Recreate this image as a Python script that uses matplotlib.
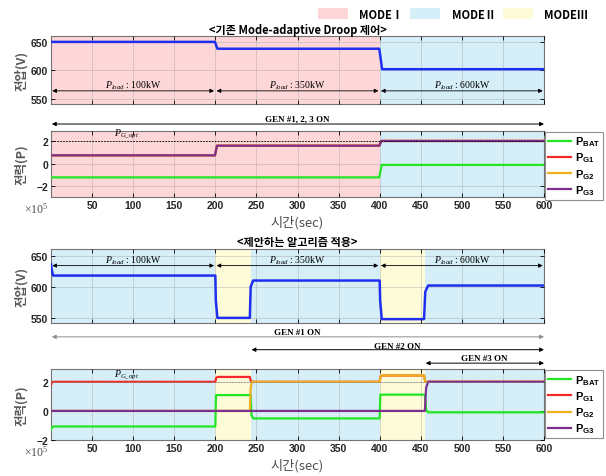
import matplotlib.pyplot as plt
from matplotlib.patches import Patch
from matplotlib.lines import Line2D

plt.rcParams['font.family'] = ['Noto Sans CJK KR', 'DejaVu Sans']
plt.rcParams['mathtext.fontset'] = 'custom'
plt.rcParams['mathtext.rm'] = 'Liberation Serif'
plt.rcParams['mathtext.it'] = 'Liberation Serif:italic'
plt.rcParams['mathtext.bf'] = 'Liberation Sans:bold'

# -----------------------------
# colours
# -----------------------------
mode_colors = {'I': '#FDD6D8', 'II': '#D5EEF8', 'III': '#FEFBD8'}
mode_names = ['MODEⅠ', 'MODEⅡ', 'MODEⅢ']
c_v = '#1F2FF0'
c_bat = '#22E622'
c_g1 = '#F42A2A'
c_g2 = '#EDB120'
c_g3 = '#7E2F8E'

# -----------------------------
# common
# -----------------------------
load_edges = [0, 200, 400, 600]
load_kw = [100, 350, 600]

# -----------------------------
# <기존 Mode-adaptive Droop 제어>
# -----------------------------
mode_edges_a = [0, 400, 600]
mode_ids_a = ['I', 'II']

t_va = [0, 199.5, 202.5, 399.5, 403, 600]
v_a = [650, 650, 638, 638, 602, 602]

t_pga = [0, 199.5, 202, 399.5, 402, 600]
pg_a = [0.75, 0.75, 1.6, 1.6, 2.02, 2.02]

t_bata = [0, 399.5, 402.5, 600]
bat_a = [-1.2, -1.2, -0.1, -0.1]

# -----------------------------
# <제안하는 알고리즘 적용>
# -----------------------------
mode_edges_b = [0, 200, 243, 400, 455, 600]
mode_ids_b = ['II', 'III', 'II', 'III', 'II']

t_vb = [0, 0.8, 2.5, 200, 200.6, 202.5, 242, 243, 246, 400, 400.6, 402.5, 454, 455.5, 459, 600]
v_b = [636, 628, 618, 618, 578, 550, 550, 600, 610, 610, 578, 548, 548, 592, 602, 602]

t_g1b = [0, 1, 2.5, 200, 201, 203, 242, 243.5, 400, 401, 403, 454, 455.5, 600]
g1_b = [1.8, 1.98, 2.02, 2.02, 2.3, 2.36, 2.36, 2.02, 2.02, 2.4, 2.46, 2.46, 2.02, 2.02]

t_g2b = [0, 242, 243, 244.5, 400, 401, 403, 454, 455.5, 600]
g2_b = [0, 0, 1.6, 2.02, 2.02, 2.4, 2.46, 2.46, 2.02, 2.02]

t_g3b = [0, 455, 456.5, 459, 600]
g3_b = [0, 0, 1.6, 2.02, 2.02]

t_batb = [0, 1, 3, 200, 200.8, 243, 244, 246, 400, 400.8, 455, 456.5, 459, 600]
bat_b = [-1.3, -1.15, -1.08, -1.08, 1.1, 1.1, -0.3, -0.52, -0.52, 1.13, 1.13, 0.1, -0.1, -0.1]

gen_labels = ['GEN #1 ON', 'GEN #2 ON', 'GEN #3 ON']
gen_start = [0, 243, 455]

pg_opt = 2.0

# -----------------------------
# figure
# -----------------------------
fig = plt.figure(figsize=(6.06, 4.77), dpi=100)
L, W = 51 / 606, 493 / 606
ax1 = fig.add_axes([L, 0.780, W, 0.142])
ax2 = fig.add_axes([L, 0.585, W, 0.139])
ax3 = fig.add_axes([L, 0.321, W, 0.154])
ax4 = fig.add_axes([L, 0.076, W, 0.148])


def style(ax, edges, ids, ylim, yticks, xlabels):
    for a, b, m in zip(edges[:-1], edges[1:], ids):
        ax.axvspan(a, b, color=mode_colors[m], lw=0, zorder=0)
    ax.set_xlim(0, 600)
    ax.set_ylim(*ylim)
    ax.set_xticks(range(50, 601, 50))
    ax.set_yticks(yticks)
    ax.grid(True, color='0.6', lw=0.5, alpha=0.5)
    ax.set_axisbelow(False)
    ax.tick_params(direction='in', top=True, right=True, length=3, width=0.6,
                   labelsize=7.5, labelcolor='0.15', pad=2)
    if not xlabels:
        ax.tick_params(labelbottom=False)
    for s in ax.spines.values():
        s.set_color('0.45')
        s.set_linewidth(0.8)
    for lbl in ax.get_xticklabels() + ax.get_yticklabels():
        lbl.set_fontfamily('Liberation Sans')
        lbl.set_fontweight('bold')


def load_arrows(ax, y, ytxt):
    for a, b, kw in zip(load_edges[:-1], load_edges[1:], load_kw):
        ax.annotate('', xy=(b - 1.5, y), xytext=(a + 1.5, y),
                    arrowprops=dict(arrowstyle='<|-|>', color='k', lw=0.6,
                                    mutation_scale=6, shrinkA=0, shrinkB=0))
        ax.text((a + b) / 2, ytxt, r'$\mathit{P}_{\mathit{load}}$ : ' + f'{kw}kW',
                ha='center', va='center', fontsize=7, family='Liberation Serif')


def gen_arrow(ax, a, y, color='k'):
    ax.annotate('', xy=(600, y), xytext=(a + 1, y), xycoords=('data', 'axes fraction'),
                arrowprops=dict(arrowstyle='<|-|>', color=color, lw=0.7,
                                mutation_scale=6, shrinkA=0, shrinkB=0),
                annotation_clip=False)


def gen_text(ax, a, y, label):
    ax.text((a + 600) / 2, y, label, transform=ax.get_xaxis_transform(),
            ha='center', va='center', fontsize=6.5, family='Liberation Serif',
            fontweight='bold', clip_on=False)


# ---- panel 1
style(ax1, mode_edges_a, mode_ids_a, (541, 660), [550, 600, 650], False)
ax1.plot(t_va, v_a, color=c_v, lw=1.8, zorder=3)
load_arrows(ax1, 564, 575)
ax1.set_ylabel('전압(V)', fontsize=9, color='0.35', fontweight='bold', labelpad=2)
ax1.set_title('<기존 Mode-adaptive Droop 제어>', fontsize=8, fontweight='bold', pad=2)

# ---- panel 2
style(ax2, mode_edges_a, mode_ids_a, (-2.93, 2.93), [-2, 0, 2], True)
ax2.plot(t_bata, bat_a, color=c_bat, lw=1.6, zorder=3)
ax2.plot(t_pga, pg_a, color=c_g1, lw=1.6, zorder=3)
ax2.plot(t_pga, pg_a, color=c_g2, lw=1.6, zorder=3)
ax2.plot(t_pga, pg_a, color=c_g3, lw=1.6, zorder=3)
ax2.axhline(pg_opt, color='k', ls=(0, (2, 1.5)), lw=0.6, zorder=4)
ax2.text(77, pg_opt + 0.1, r'$\mathit{P}_{\mathit{G\_opt}}$', fontsize=7, va='bottom')
gen_arrow(ax2, 0, 1.10)
gen_text(ax2, 0, 1.19, 'GEN #1, 2, 3 ON')

# ---- panel 3
style(ax3, mode_edges_b, mode_ids_b, (542, 660), [550, 600, 650], False)
ax3.plot(t_vb, v_b, color=c_v, lw=1.8, zorder=3)
load_arrows(ax3, 634, 644)
ax3.set_ylabel('전압(V)', fontsize=9, color='0.35', fontweight='bold', labelpad=2)
ax3.set_title('<제안하는 알고리즘 적용>', fontsize=8, fontweight='bold', pad=3)
gen_arrow(ax3, gen_start[0], -0.19, color='0.55')
gen_text(ax3, gen_start[0], -0.125, gen_labels[0])
gen_arrow(ax3, gen_start[1], -0.365)
gen_text(ax3, gen_start[1], -0.31, gen_labels[1])

# ---- panel 4
style(ax4, mode_edges_b, mode_ids_b, (-2.0, 2.9), [-2, 0, 2], True)
ax4.plot(t_batb, bat_b, color=c_bat, lw=1.6, zorder=3)
ax4.plot(t_g1b, g1_b, color=c_g1, lw=1.6, zorder=3)
ax4.plot(t_g2b, g2_b, color=c_g2, lw=1.6, zorder=3)
ax4.plot(t_g3b, g3_b, color=c_g3, lw=1.6, zorder=3)
ax4.axhline(pg_opt, color='0.55', ls=(0, (2, 1.5)), lw=0.6, zorder=4)
ax4.text(77, pg_opt + 0.1, r'$\mathit{P}_{\mathit{G\_opt}}$', fontsize=7, va='bottom')
gen_arrow(ax4, gen_start[2], 1.085)
gen_text(ax4, gen_start[2], 1.155, gen_labels[2])

# ---- power panels: labels, legends
leg_labels = [r'$\mathbf{P}_{\mathbf{BAT}}$', r'$\mathbf{P}_{\mathbf{G1}}$',
              r'$\mathbf{P}_{\mathbf{G2}}$', r'$\mathbf{P}_{\mathbf{G3}}$']
for ax in (ax2, ax4):
    ax.set_ylabel('전력(P)', fontsize=9, color='0.35', fontweight='bold', labelpad=6)
    ax.set_xlabel('시간(sec)', fontsize=9.5, color='0.3', labelpad=4)
    ax.text(-0.005, -0.17, r'$\times10^5$', transform=ax.transAxes, ha='right',
            va='center', fontsize=8.5, color='0.3', family='Liberation Sans')
    handles = [Line2D([], [], color=c, lw=1.6) for c in (c_bat, c_g1, c_g2, c_g3)]
    leg = ax.legend(handles, leg_labels, loc='upper left', bbox_to_anchor=(1.0, 1.0),
                    borderaxespad=0.1, fontsize=8, frameon=True, fancybox=False,
                    edgecolor='0.45', handlelength=2.1, handletextpad=0.3,
                    labelspacing=0.25, borderpad=0.25)
    leg.get_frame().set_linewidth(0.8)

# ---- mode legend
mode_handles = [Patch(facecolor=mode_colors[k], edgecolor='none', label=n)
                for k, n in zip(['I', 'II', 'III'], mode_names)]
fig.legend(handles=mode_handles, loc='upper left', bbox_to_anchor=(312 / 606, 1 - 3 / 477),
           ncol=3, frameon=False, borderpad=0, handlelength=2.7, handleheight=1.1,
           handletextpad=1.0, columnspacing=0.7,
           prop={'family': 'Noto Sans CJK KR', 'weight': 'bold', 'size': 8})

fig.savefig('out.png', dpi=100)
